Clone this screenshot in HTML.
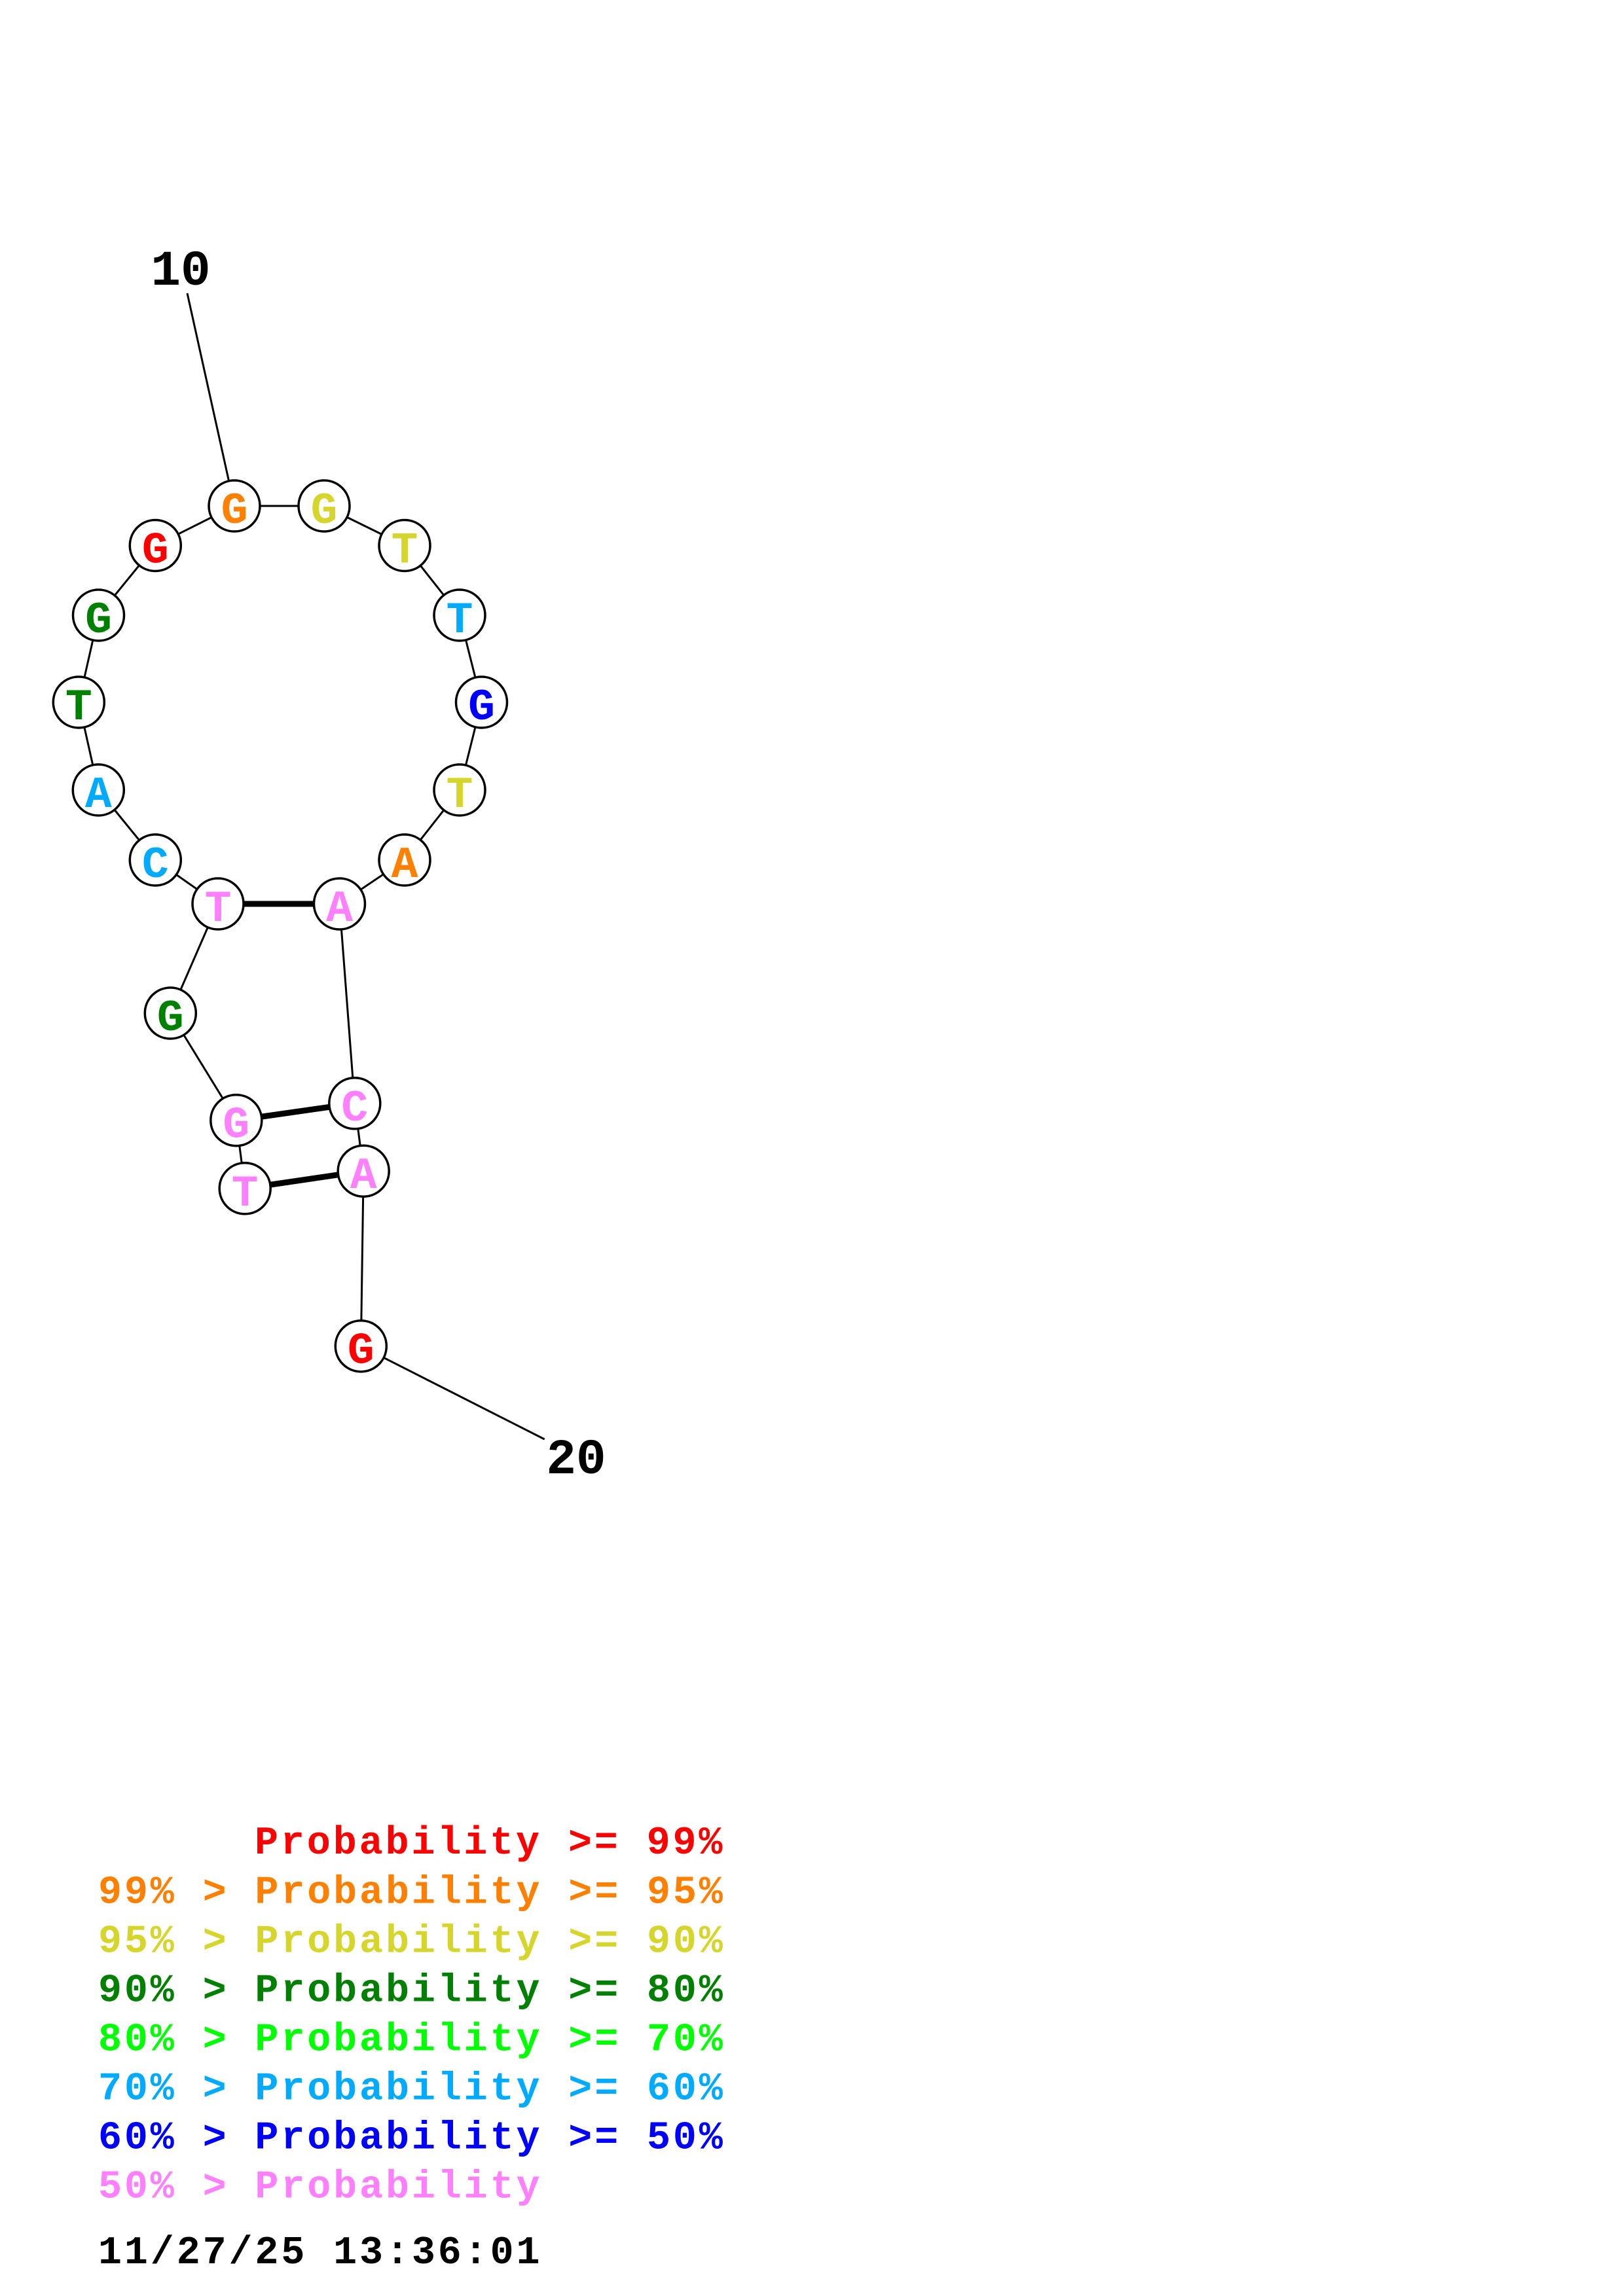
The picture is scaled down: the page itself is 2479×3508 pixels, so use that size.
<!DOCTYPE html>
<html>
<head>
<meta charset="utf-8">
<style>
  html, body { margin: 0; padding: 0; background: #ffffff; }
  svg { display: block; }
  .nt { font-family: "Liberation Mono", "DejaVu Sans Mono", monospace; font-weight: bold; font-size: 68px; text-anchor: middle; }
  .lab { font-family: "Liberation Mono", "DejaVu Sans Mono", monospace; font-weight: bold; font-size: 76px; text-anchor: middle; fill: #000; }
  .leg { font-family: "Liberation Mono", "DejaVu Sans Mono", monospace; font-weight: bold; font-size: 60px; letter-spacing: 3.9px; }
</style>
</head>
<body>
<svg width="2479" height="3508" viewBox="0 0 2479 3508" xmlns="http://www.w3.org/2000/svg">
  <rect x="0" y="0" width="2479" height="3508" fill="#ffffff"/>

  <!-- thin backbone lines -->
  <g stroke="#000" stroke-width="3" fill="none" stroke-linecap="butt">
    <line x1="286" y1="448" x2="358" y2="773"/>
    <line x1="358" y1="773" x2="495" y2="773"/>
    <line x1="495" y1="773" x2="618" y2="833.5"/>
    <line x1="618" y1="833.5" x2="702" y2="940"/>
    <line x1="702" y1="940" x2="735.5" y2="1073"/>
    <line x1="735.5" y1="1073" x2="702" y2="1207"/>
    <line x1="702" y1="1207" x2="618" y2="1314"/>
    <line x1="618" y1="1314" x2="518.5" y2="1381"/>
    <line x1="518.5" y1="1381" x2="541.8" y2="1685.8"/>
    <line x1="541.8" y1="1685.8" x2="555.2" y2="1789.2"/>
    <line x1="555.2" y1="1789.2" x2="551.3" y2="2056.7"/>
    <line x1="551.3" y1="2056.7" x2="831.7" y2="2199"/>
    <line x1="358" y1="773" x2="237.3" y2="833.5"/>
    <line x1="237.3" y1="833.5" x2="150.5" y2="940"/>
    <line x1="150.5" y1="940" x2="120.3" y2="1073"/>
    <line x1="120.3" y1="1073" x2="150.3" y2="1207"/>
    <line x1="150.3" y1="1207" x2="237.3" y2="1314"/>
    <line x1="237.3" y1="1314" x2="333" y2="1381"/>
    <line x1="333" y1="1381" x2="260.3" y2="1548"/>
    <line x1="260.3" y1="1548" x2="360.8" y2="1711.7"/>
    <line x1="360.8" y1="1711.7" x2="374.2" y2="1815.8"/>
  </g>

  <!-- thick base-pair lines -->
  <g stroke="#000" stroke-width="9" fill="none">
    <line x1="333" y1="1381" x2="518.5" y2="1381"/>
    <line x1="360.8" y1="1711.7" x2="541.8" y2="1685.8"/>
    <line x1="374.2" y1="1815.8" x2="555.2" y2="1789.2"/>
  </g>

  <!-- nodes -->
  <g stroke="#000" stroke-width="3.5" fill="#fff">
    <circle cx="358" cy="773" r="39"/>
    <circle cx="495" cy="773" r="39"/>
    <circle cx="618" cy="833.5" r="39"/>
    <circle cx="702" cy="940" r="39"/>
    <circle cx="735.5" cy="1073" r="39"/>
    <circle cx="702" cy="1207" r="39"/>
    <circle cx="618" cy="1314" r="39"/>
    <circle cx="518.5" cy="1381" r="39"/>
    <circle cx="333" cy="1381" r="39"/>
    <circle cx="237.3" cy="1314" r="39"/>
    <circle cx="150.3" cy="1207" r="39"/>
    <circle cx="120.3" cy="1073" r="39"/>
    <circle cx="150.5" cy="940" r="39"/>
    <circle cx="237.3" cy="833.5" r="39"/>
    <circle cx="260.3" cy="1548" r="39"/>
    <circle cx="360.8" cy="1711.7" r="39"/>
    <circle cx="374.2" cy="1815.8" r="39"/>
    <circle cx="541.8" cy="1685.8" r="39"/>
    <circle cx="555.2" cy="1789.2" r="39"/>
    <circle cx="551.3" cy="2056.7" r="39"/>
  </g>

  <!-- node letters -->
  <g class="nt">
    <text x="358" y="799" fill="#FF8000">G</text>
    <text x="495" y="799" fill="#D5D52B">G</text>
    <text x="618" y="859.5" fill="#D5D52B">T</text>
    <text x="702" y="966" fill="#00AAFF">T</text>
    <text x="735.5" y="1099" fill="#0000FF">G</text>
    <text x="702" y="1233" fill="#D5D52B">T</text>
    <text x="618" y="1340" fill="#FF8000">A</text>
    <text x="518.5" y="1407" fill="#FF80FF">A</text>
    <text x="333" y="1407" fill="#FF80FF">T</text>
    <text x="237.3" y="1340" fill="#00AAFF">C</text>
    <text x="150.3" y="1233" fill="#00AAFF">A</text>
    <text x="120.3" y="1099" fill="#008000">T</text>
    <text x="150.5" y="966" fill="#008000">G</text>
    <text x="237.3" y="859.5" fill="#FF0000">G</text>
    <text x="260.3" y="1574" fill="#008000">G</text>
    <text x="360.8" y="1737.7" fill="#FF80FF">G</text>
    <text x="374.2" y="1841.8" fill="#FF80FF">T</text>
    <text x="541.8" y="1711.8" fill="#FF80FF">C</text>
    <text x="555.2" y="1815.2" fill="#FF80FF">A</text>
    <text x="551.3" y="2082.7" fill="#FF0000">G</text>
  </g>

  <!-- position labels -->
  <text class="lab" x="276" y="435">10</text>
  <text class="lab" x="880" y="2251">20</text>

  <!-- legend -->
  <g class="leg">
    <text x="389" y="2832" fill="#FF0000">Probability &gt;= 99%</text>
    <text x="150" y="2907.5" fill="#FF8000">99% &gt; Probability &gt;= 95%</text>
    <text x="150" y="2982.5" fill="#D5D52B">95% &gt; Probability &gt;= 90%</text>
    <text x="150" y="3057.5" fill="#008000">90% &gt; Probability &gt;= 80%</text>
    <text x="150" y="3132.5" fill="#00FF00">80% &gt; Probability &gt;= 70%</text>
    <text x="150" y="3207.5" fill="#00AAFF">70% &gt; Probability &gt;= 60%</text>
    <text x="150" y="3282.5" fill="#0000FF">60% &gt; Probability &gt;= 50%</text>
    <text x="150" y="3357.5" fill="#FF80FF">50% &gt; Probability</text>
    <text x="150" y="3458" fill="#000000">11/27/25 13:36:01</text>
  </g>
</svg>
</body>
</html>
